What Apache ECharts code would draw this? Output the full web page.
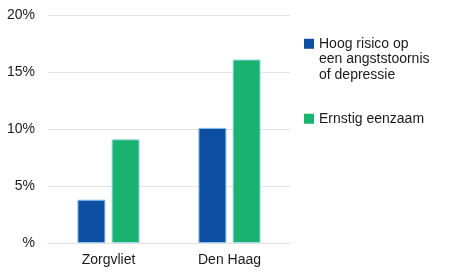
<!DOCTYPE html>
<html>
<head>
<meta charset="utf-8">
<script src="https://cdn.jsdelivr.net/npm/echarts@6/dist/echarts.min.js"></script>
<style>html,body{margin:0;padding:0;background:#fff}#c{width:450px;height:276px}</style>
</head>
<body>
<div id="c"></div>
<script>
const categories = ['Zorgvliet', 'Den Haag'];
const seriesNames = ['Hoog risico op\neen angststoornis\nof depressie', 'Ernstig eenzaam'];
const angst = [3.8, 10.1];
const eenzaam = [9.1, 16.1];
const yTicks = [0, 5, 10, 15, 20];

const font = '"Liberation Sans", Arial, sans-serif';
const chart = echarts.init(document.getElementById('c'), null, {renderer: 'canvas'});
const legendText = {fontFamily: font, fontSize: 14, color: '#1a1a1a', lineHeight: 15.5};
chart.setOption({
  animation: false,
  textStyle: {fontFamily: font},
  grid: {left: 48, right: 160, top: 15, bottom: 33},
  legend: [
    {
      data: [seriesNames[0]], left: 304, top: 5, orient: 'vertical', padding: 0,
      itemWidth: 10, itemHeight: 10, icon: 'rect',
      formatter: n => '\n\n' + n,
      textStyle: legendText,
      itemStyle: {borderWidth: 0}
    },
    {
      data: [seriesNames[1]], left: 304, top: 111, orient: 'vertical', padding: 0,
      itemWidth: 10, itemHeight: 10, icon: 'rect',
      textStyle: legendText,
      itemStyle: {borderWidth: 0}
    }
  ],
  xAxis: {
    type: 'category', data: categories,
    axisLine: {show: true, lineStyle: {color: '#e0e0e0'}},
    axisTick: {show: false},
    axisLabel: {fontFamily: font, fontSize: 14, color: '#1a1a1a', margin: 10}
  },
  yAxis: {
    type: 'value', min: yTicks[0], max: yTicks[yTicks.length - 1], interval: 5,
    axisLine: {show: false}, axisTick: {show: false},
    splitLine: {lineStyle: {color: '#e3e3e3'}},
    axisLabel: {fontFamily: font, fontSize: 14, color: '#1a1a1a', margin: 13,
      formatter: v => v === 0 ? '%' : v + '%'}
  },
  series: [
    {name: seriesNames[0], type: 'bar', data: angst, barWidth: 28, barGap: '22%',
     itemStyle: {color: '#0b4ea2', borderColor: '#8fc3ee', borderWidth: 1}},
    {name: seriesNames[1], type: 'bar', data: eenzaam, barWidth: 28,
     itemStyle: {color: '#1ab26f', borderColor: '#a8d8f5', borderWidth: 1}}
  ]
});
</script>
</body>
</html>
